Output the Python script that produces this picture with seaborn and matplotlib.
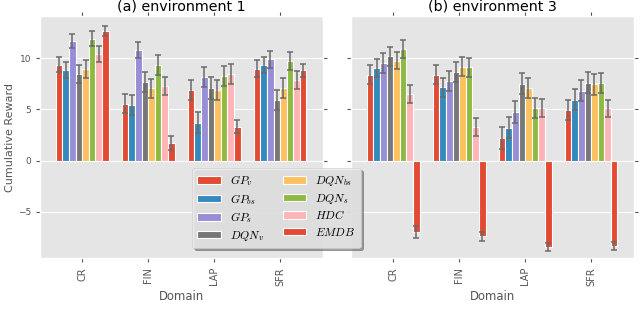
import numpy as np
import pandas as pd
import seaborn as sns
import matplotlib
matplotlib.use('Agg')
import matplotlib.pyplot as plt

# data
domains = ['CR', 'FIN', 'LAP', 'SFR']
methods = [r'$GP_v$', r'$GP_{bs}$', r'$GP_s$', r'$DQN_v$',
           r'$DQN_{bs}$', r'$DQN_s$', r'$HDC$', r'$EMDB$']
colors = ['#E24A33', '#348ABD', '#988ED5', '#777777',
          '#FBC15E', '#8EBA42', '#FFB5B8', '#E24A33']

# rows = methods, columns = domains
env1_mean = [[9.35, 5.57, 6.89, 8.96],
             [8.83, 5.44, 3.72, 9.32],
             [11.65, 10.78, 8.16, 9.87],
             [8.45, 7.67, 7.09, 5.92],
             [8.93, 7.06, 6.89, 7.12],
             [11.9, 9.35, 8.25, 9.74],
             [10.42, 7.28, 8.45, 7.86],
             [12.62, 1.75, 3.3, 8.8]]
env1_err = [[0.75, 0.97, 0.95, 0.82],
            [0.8, 0.94, 1.07, 0.78],
            [0.7, 0.75, 1.0, 0.82],
            [0.85, 1.0, 1.04, 0.97],
            [0.85, 0.92, 0.97, 0.97],
            [0.75, 0.97, 1.0, 0.86],
            [0.8, 0.9, 0.94, 0.89],
            [0.5, 0.7, 0.65, 0.65]]
env3_mean = [[8.4, 8.4, 2.22, 4.98],
             [9.04, 7.14, 3.22, 5.95],
             [9.52, 7.78, 4.76, 6.82],
             [10.16, 8.68, 7.49, 7.62],
             [9.74, 9.16, 7.07, 7.43],
             [10.87, 9.1, 5.11, 7.56],
             [6.5, 3.25, 5.14, 5.11],
             [-6.95, -7.37, -8.41, -8.34]]
env3_err = [[0.97, 0.97, 1.05, 0.98],
            [0.88, 0.93, 1.0, 1.0],
            [0.95, 0.97, 1.1, 1.0],
            [0.92, 0.97, 1.03, 1.0],
            [0.84, 0.93, 0.96, 1.03],
            [0.9, 0.92, 0.98, 1.0],
            [0.85, 0.88, 0.9, 0.84],
            [0.57, 0.45, 0.4, 0.37]]

plt.style.use('ggplot')
plt.rcParams['mathtext.fontset'] = 'cm'
plt.rcParams['font.family'] = ['DejaVu Sans']


def to_long(mean, err):
    rows = []
    for i, m in enumerate(methods):
        for j, d in enumerate(domains):
            rows.append({'Domain': d, 'Method': m, 'Reward': mean[i][j], 'err': err[i][j]})
    return pd.DataFrame(rows)


fig, axes = plt.subplots(1, 2, figsize=(6.4, 3.21), dpi=100, sharey=True)
plt.subplots_adjust(left=0.0625, right=0.9906, top=0.95, bottom=0.196, wspace=0.099)

panels = [(env1_mean, env1_err, '(a) environment 1'),
          (env3_mean, env3_err, '(b) environment 3')]

for ax, (mean, err, title) in zip(axes, panels):
    df = to_long(mean, err)
    sns.barplot(data=df, x='Domain', y='Reward', hue='Method', hue_order=methods,
                order=domains, palette=colors, errorbar=None, ax=ax,
                edgecolor='white', linewidth=0.8, saturation=1)
    # error bars on top of the seaborn bars
    bar_sets = list(ax.containers)
    for i, cont in enumerate(bar_sets):
        for j, bar in enumerate(cont):
            ax.errorbar(bar.get_x() + bar.get_width() / 2, bar.get_height(),
                        yerr=err[i][j], fmt='none', ecolor='#6a6a6a',
                        elinewidth=1.1, capsize=2.3, capthick=1.1)
    ax.set_title(title, fontsize=10.3, color='black', pad=4)
    ax.set_xlabel('Domain', fontsize=8.4, color='#555555', labelpad=3)
    ax.set_ylabel('')
    ax.set_xlim(-0.64, 3.65)
    ax.set_ylim(-9.5, 14.1)
    ax.set_yticks([-5, 0, 5, 10])
    ax.tick_params(axis='x', labelsize=7, rotation=90)
    ax.tick_params(axis='y', labelsize=6.5)
    ax.tick_params(top=True, right=True, labeltop=False, labelright=False,
                   length=3, color='#555555')
    ax.get_legend().remove()

axes[0].set_ylabel('Cumulative Reward', fontsize=8, color='#555555', labelpad=2)

handles, labels = axes[0].get_legend_handles_labels()
leg = fig.legend(handles, labels, ncol=2, loc='upper left',
                 bbox_to_anchor=(0.30, 0.477), borderaxespad=0, fontsize=8.4,
                 shadow=True, framealpha=0.85, facecolor='#EBEBEB',
                 edgecolor='#cccccc', columnspacing=1.6, labelspacing=0.3,
                 handlelength=2.0, handleheight=0.6, borderpad=0.45)

plt.savefig('out.png', dpi=100)
